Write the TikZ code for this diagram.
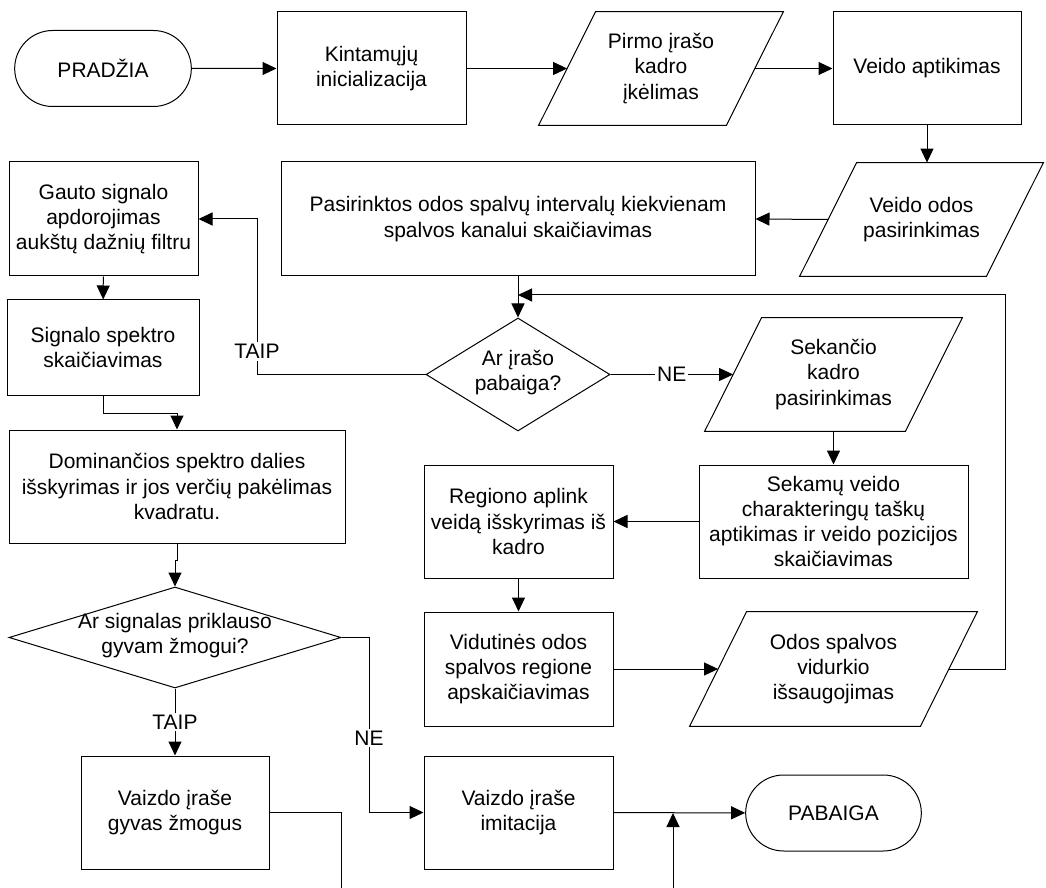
\documentclass[tikz,border=0pt]{standalone}
\usepackage{fontspec}
\setmainfont{Liberation Sans}
\usetikzlibrary{shapes.geometric,shapes.misc,arrows.meta}
\newcommand{\flattxt}[1]{\makebox[0pt]{\smash{\raisebox{-2pt}{\begin{tabular}{@{}c@{}}#1\end{tabular}}}}}

\begin{document}
\begin{tikzpicture}[x=0.5pt,y=-0.5pt,
  every node/.style={font=\fontsize{10.5}{12.6}\selectfont},
  conn/.style={draw,line width=0.5pt},
  flow/.style={conn,-{Triangle[length=7pt,width=6.5pt]}},
  term/.style={rounded rectangle,draw,line width=0.5pt,minimum width=95pt,minimum height=38pt},
  proc/.style={rectangle,draw,line width=0.5pt,align=center,minimum width=94.5pt,minimum height=56.5pt},
  io/.style={rectangle,align=center,minimum height=56.5pt,inner sep=0pt,
    append after command={\pgfextra{\draw[line width=0.5pt]
      ([xshift=28.5pt]\tikzlastnode.north west) -- (\tikzlastnode.north east)
      -- ([xshift=-28.5pt]\tikzlastnode.south east) -- (\tikzlastnode.south west) -- cycle;}}},
  dec/.style={diamond,draw,line width=0.5pt,inner sep=0pt},
  lbl/.style={fill=white,inner sep=1pt}]
\useasboundingbox (0,0) rectangle (1046,888);

\node[term] (pradzia) at (103,68.5) {PRADŽIA};
\node[proc] (kintamieji) at (371.5,68.5) {Kintamųjų\\inicializacija};
\node[io,minimum width=122pt] (pirmas) at (661,68.5) {Pirmo įrašo\\kadro\\įkėlimas};
\node[proc,minimum width=94pt] (veidas) at (927,68.5) {Veido aptikimas};
\node[io,minimum width=121.5pt] (oda) at (921.5,219.5) {Veido odos\\pasirinkimas};
\node[proc,minimum width=237pt,minimum height=57pt] (intervalai) at (518,219) {Pasirinktos odos spalvų intervalų kiekvienam\\spalvos kanalui skaičiavimas};
\node[proc,minimum height=57pt] (gauto) at (103.5,219) {Gauto signalo\\apdorojimas\\aukštų dažnių filtru};
\node[proc,minimum width=96pt,minimum height=47.5pt] (spektras) at (103,347.5) {Signalo spektro\\skaičiavimas};
\node[proc,minimum width=168pt] (dominante) at (177,486.5) {Dominančios spektro dalies\\išskyrimas ir jos verčių pakėlimas\\kvadratu.};
\node[dec,minimum width=92pt,minimum height=56.5pt] (pabaigaq) at (518,374.5) {\flattxt{Ar įrašo\\pabaiga?}};
\node[io,minimum width=128.5pt] (sekantis) at (833.5,374.5) {Sekančio\\kadro\\pasirinkimas};
\node[proc,minimum width=134.5pt] (taskai) at (833.5,521.5) {Sekamų veido\\charakteringų taškų\\aptikimas ir veido pozicijos\\skaičiavimas};
\node[proc] (regionas) at (518.5,521.5) {Regiono aplink\\veidą išskyrimas iš\\kadro};
\node[proc,minimum height=57pt] (vidutine) at (518.5,669) {Vidutinės odos\\spalvos regione\\apskaičiavimas};
\node[io,minimum width=143.5pt,minimum height=57pt] (vidurkis) at (833.5,669) {Odos spalvos\\vidurkio\\išsaugojimas};
\node[dec,minimum width=166pt,minimum height=50.5pt] (gyvasq) at (175,637.5) {\flattxt{Ar signalas priklauso\\gyvam žmogui?}};
\node[proc,minimum width=94pt] (gyvas) at (175,812.5) {Vaizdo įraše\\gyvas žmogus};
\node[proc] (imitacija) at (518.5,812.5) {Vaizdo įraše\\imitacija};
\node[term,minimum width=94.5pt] (pabaiga) at (833.5,813) {PABAIGA};

\coordinate (ciklas) at (1005,295);
\coordinate (taip) at (257,219);
\coordinate (ne) at (369,812.5);
\coordinate (galasA) at (341,888);
\coordinate (galasB) at (673,888);

\draw[flow] (pradzia) -- (kintamieji);
\draw[flow] (kintamieji) -- ([xshift=14.25pt]pirmas.west);
\draw[flow] ([xshift=-14.25pt]pirmas.east) -- (veidas);
\draw[flow] (veidas.south) -- (veidas.south |- oda.north);
\draw[flow] ([xshift=14.25pt]oda.west) -- (intervalai.east);
\draw[flow] (intervalai) -- (pabaigaq);
\draw[flow] (pabaigaq.west) -| node[lbl,pos=0.574]{TAIP} (taip) -- (gauto.east);
\draw[flow] (pabaigaq.east) -- node[lbl]{NE} ([xshift=14.25pt]sekantis.west);
\draw[flow] (sekantis.south) -- (taskai.north);
\draw[flow] (taskai) -- (regionas);
\draw[flow] (regionas) -- (vidutine);
\draw[flow] (vidutine) -- ([xshift=14.25pt]vidurkis.west);
\draw[flow] ([xshift=-14.25pt]vidurkis.east) -| (ciklas) -- (intervalai.south |- ciklas);
\draw[flow] (gauto) -- (spektras);
\draw[flow] (spektras.south) -- ++(0,18) -| (dominante.north);
\draw[flow] (dominante.south) -- ++(0,17) -| (gyvasq.north);
\draw[flow] (gyvasq.south) -- node[lbl]{TAIP} (gyvas.north);
\draw[flow] (gyvasq.east) -| node[lbl,pos=0.787]{NE} (ne) -- (imitacija.west);
\draw[flow] (imitacija) -- (pabaiga);
\draw[conn] (gyvas.east) -| (galasA);
\draw[flow] (galasB) -- (galasB |- pabaiga.west);
\end{tikzpicture}
\end{document}
